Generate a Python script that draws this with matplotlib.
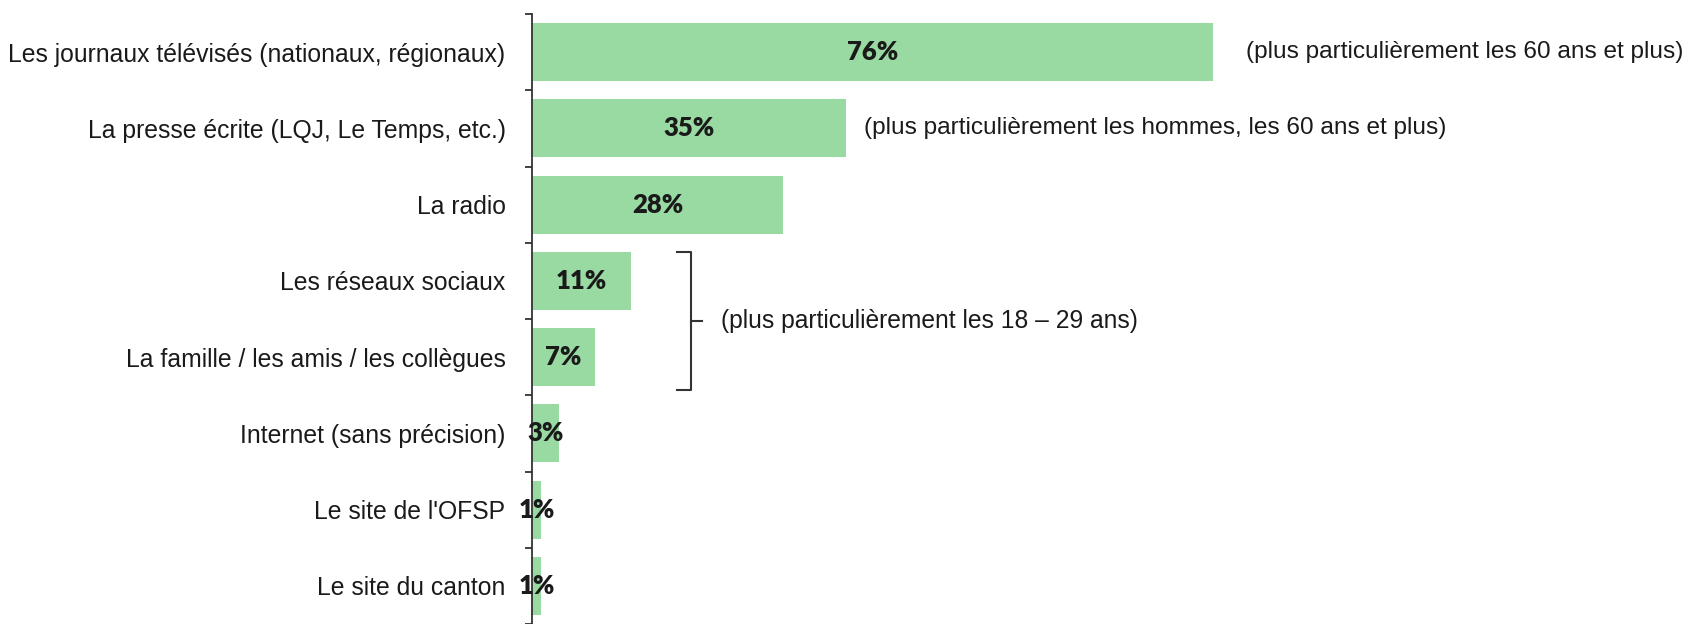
import matplotlib.pyplot as plt
from matplotlib.ticker import FixedLocator

categories = [
    "Les journaux télévisés (nationaux, régionaux)",
    "La presse écrite (LQJ, Le Temps, etc.)",
    "La radio",
    "Les réseaux sociaux",
    "La famille / les amis / les collègues",
    "Internet (sans précision)",
    "Le site de l'OFSP",
    "Le site du canton",
]
values = [76, 35, 28, 11, 7, 3, 1, 1]
notes = {
    0: "(plus particulièrement les 60 ans et plus)",
    1: "(plus particulièrement les hommes, les 60 ans et plus)",
}
group_note = "(plus particulièrement les 18 – 29 ans)"
group_rows = (3, 4)

LABEL_FONT = ["Liberation Sans", "DejaVu Sans"]
VALUE_FONT = ["Lato", "DejaVu Sans"]
BAR_COLOR = "#99d9a2"
TEXT = "#1a1a1a"

fig = plt.figure(figsize=(16.87, 6.24), dpi=100)
ax = fig.add_axes([532 / 1687, 0.0, 896 / 1687, 1 - 14 / 624])

y = list(range(len(categories)))
ax.barh(y, values, height=0.76, color=BAR_COLOR)
ax.set_xlim(0, 100)
ax.set_ylim(len(categories) - 0.5, -0.5)

for i, v in enumerate(values):
    ax.text(v / 2, i, f"{v}%", ha="center", va="center", fontsize=18.5,
            fontweight="heavy", family=VALUE_FONT, color=TEXT)

# gap between bar end and side note differs a bit per row in the original
note_gap = {0: 3.7, 1: 2.1}
for i, txt in notes.items():
    ax.text(values[i] + note_gap[i], i, txt, ha="left", va="center", fontsize=17.6,
            family=LABEL_FONT, color=TEXT, clip_on=False)

# bracket round the two rows for the young people
top, bot = group_rows[0] - 0.38, group_rows[1] + 0.43
mid = (top + bot) / 2
bx = 17.8
ax.plot([bx - 1.6, bx, bx, bx - 1.6], [top, top, bot, bot], color="#333333", lw=1.5,
        clip_on=False)
ax.plot([bx, bx + 1.2], [mid, mid], color="#333333", lw=1.5, clip_on=False)
ax.text(bx + 3.3, mid, group_note, ha="left", va="center", fontsize=17.7,
        family=LABEL_FONT, color=TEXT)

ax.set_yticks(y)
ax.set_yticklabels(categories, family=LABEL_FONT, fontsize=17.8, color=TEXT)
ax.yaxis.set_minor_locator(FixedLocator([i - 0.5 for i in range(len(categories) + 1)]))
ax.tick_params(axis="y", which="major", length=0, pad=19)
ax.tick_params(axis="y", which="minor", length=5, width=1.3, color="#333333")
ax.set_xticks([])
for side in ["top", "right", "bottom"]:
    ax.spines[side].set_visible(False)
ax.spines["left"].set_color("#333333")
ax.spines["left"].set_linewidth(1.3)

fig.savefig("out.png", dpi=100)
